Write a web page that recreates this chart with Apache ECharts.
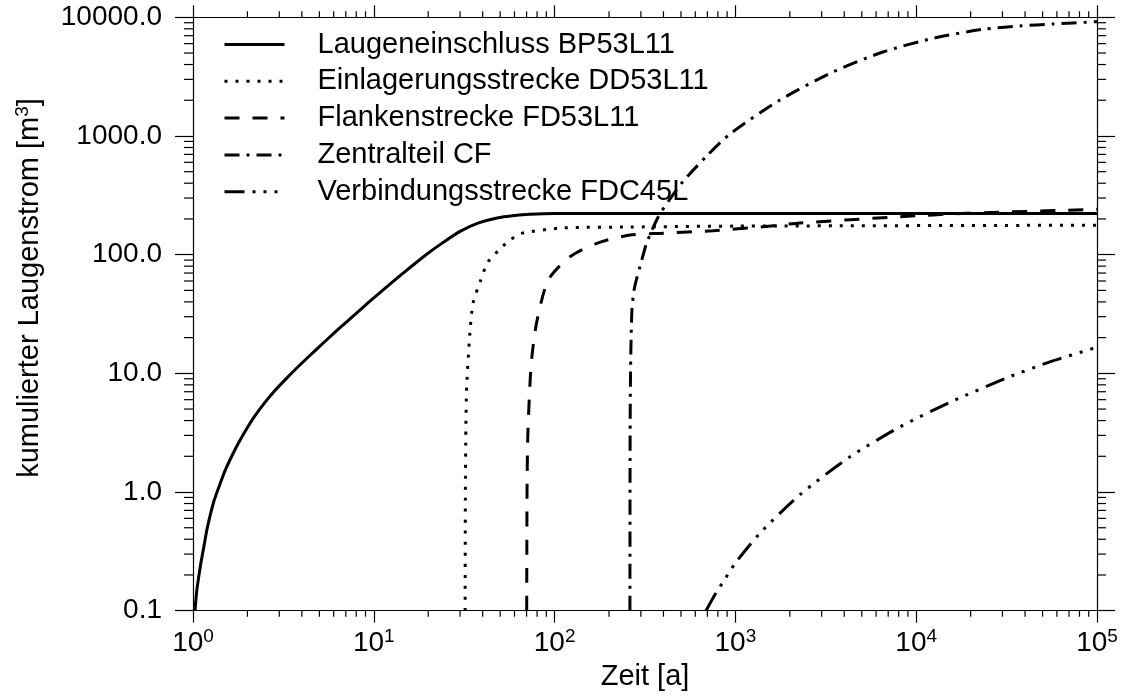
<!DOCTYPE html>
<html><head><meta charset="utf-8">
<script src="https://cdn.jsdelivr.net/npm/echarts@6/dist/echarts.min.js"></script>
<style>html,body{margin:0;padding:0;background:#fff}#c{width:1125px;height:697px}</style>
</head><body><div id="c"></div>
<script>
const FONT = "'Liberation Sans', Arial, Helvetica, sans-serif";

const seriesNames = [
  'Laugeneinschluss BP53L11',
  'Einlagerungsstrecke DD53L11',
  'Flankenstrecke FD53L11',
  'Zentralteil CF',
  'Verbindungsstrecke FDC45L'
];
const xTickExponents = ['0', '1', '2', '3', '4', '5'];
const yTickLabels = ['0.1', '1.0', '10.0', '100.0', '1000.0', '10000.0'];
const xAxisTitle = 'Zeit [a]';
const yAxisTitle = 'kumulierter Laugenstrom [m';
const yAxisTitleSup = '3';

// Laugeneinschluss BP53L11 (solid)
const tLauge = [1.026, 1.048, 1.1, 1.15, 1.2, 1.3, 1.4, 1.5, 1.65, 1.8, 2.0, 2.2, 2.5, 2.84, 3.3, 3.8, 4.4, 5.0, 6.0, 7.0, 8.5, 10, 12.8, 16, 19.7, 24, 30, 38, 48, 60, 73, 100, 1000, 100000];
const vLauge = [0.1, 0.145, 0.24, 0.35, 0.5, 0.82, 1.13, 1.5, 2.05, 2.65, 3.5, 4.38, 5.69, 7.17, 9.12, 11.3, 14.0, 16.8, 21.7, 26.8, 34.8, 43.2, 59.5, 78.7, 101.3, 125.7, 157, 185, 204, 214, 219, 222, 222, 222];
// Einlagerungsstrecke DD53L11 (dotted)
const tEin = [32.0, 32.1, 32.3, 32.65, 34.0, 35.4, 38.7, 42.8, 51.2, 56.7, 64.4, 73, 111, 261, 1000, 100000];
const vEin = [0.1, 1.0, 3.5, 7.7, 21.9, 39, 58.8, 86.7, 116, 133, 150, 156, 168, 171, 174, 177];
// Flankenstrecke FD53L11 (dashed)
const tFlank = [70.1, 70.4, 71.1, 73.6, 75.6, 80, 92.3, 121.7, 171, 261, 398, 752, 1421, 2277, 8137, 19010, 100000];
const vFlank = [0.1, 1.0, 3.0, 10, 15.7, 28, 61.2, 96.1, 124.6, 146.4, 151.4, 159.2, 172, 184.8, 208.9, 223, 241];
// Zentralteil CF (dash-dot)
const tZent = [261, 261.3, 262, 264, 268, 275, 284.6, 300, 323, 374.7, 434.8, 513.2, 694, 933.5, 1765, 3466, 6553, 12390, 23420, 37500, 57100, 100000];
const vZent = [0.1, 1.0, 5, 15, 35, 50, 63, 84.2, 125.4, 208.9, 294.4, 413.6, 678, 1039, 2010, 3459, 5101, 6655, 7925, 8449, 8783, 9183];
// Verbindungsstrecke FDC45L (dash-dot-dot-dot)
const tVerb = [687.6, 788, 850.5, 995, 1368, 2277, 4303, 8137, 15380, 31380, 54950, 100000];
const vVerb = [0.1, 0.145, 0.172, 0.25, 0.45, 0.95, 1.98, 3.54, 5.7, 9.1, 12.5, 16.6];

const allT = [tLauge, tEin, tFlank, tZent, tVerb];
const allV = [vLauge, vEin, vFlank, vZent, vVerb];
const dashTypes = ['solid', [3, 8], [15, 13], [15, 7, 3, 7], [20, 8, 3, 8, 3, 8, 3, 8]];

const chart = echarts.init(document.getElementById('c'), null, {renderer: 'canvas'});

const axisLineStyle = {color: '#000', width: 1.2};
const xRich = {
  b: {fontSize: 28, fontFamily: FONT, color: '#000', lineHeight: 28, padding: [4, 0, 0, 0]},
  s: {fontSize: 19, fontFamily: FONT, color: '#000', lineHeight: 19, verticalAlign: 'top'}
};
function xLabel(v) {
  const i = Math.round(Math.log10(v));
  return '{b|10}{s|' + xTickExponents[i] + '}';
}
function yLabel(v) {
  const i = Math.round(Math.log10(v)) + 1;
  return yTickLabels[i];
}

const option = {
  animation: false,
  backgroundColor: '#fff',
  grid: {left: 193, right: 28, top: 17.3, bottom: 86.3, containLabel: false},
  legend: {
    data: seriesNames,
    orient: 'vertical',
    left: 223, top: 29.5, padding: 0,
    itemWidth: 60, itemHeight: 14, itemGap: 6.8,
    itemStyle: {opacity: 0},
    lineStyle: {width: 3, color: '#000'},
    textStyle: {fontSize: 29, fontFamily: FONT, color: '#000', lineHeight: 30, padding: [0, 0, 0, 28]},
    selectedMode: false
  },
  xAxis: [
    {
      type: 'log', logBase: 10, min: 1, max: 100000, splitNumber: 5,
      position: 'bottom',
      name: xAxisTitle, nameLocation: 'middle', nameGap: 49,
      nameTextStyle: {fontSize: 29, fontFamily: FONT, color: '#000'},
      axisLine: {onZero: false, lineStyle: axisLineStyle},
      axisTick: {inside: false, length: 12, lineStyle: axisLineStyle},
      axisLabel: {margin: 17, formatter: xLabel, rich: xRich},
      splitLine: {show: false}, minorTick: {show: false}
    },
    {
      type: 'log', logBase: 10, min: 1, max: 100000, splitNumber: 5,
      position: 'top',
      axisLine: {onZero: false, lineStyle: axisLineStyle},
      axisTick: {inside: false, length: 12, lineStyle: axisLineStyle},
      axisLabel: {show: false},
      splitLine: {show: false}
    }
  ],
  yAxis: [
    {
      type: 'log', logBase: 10, min: 0.1, max: 10000, splitNumber: 5,
      position: 'left',
      axisLine: {onZero: false, lineStyle: axisLineStyle},
      axisTick: {inside: false, length: 18, lineStyle: axisLineStyle},
      axisLabel: {margin: 31, formatter: yLabel, fontSize: 28, fontFamily: FONT, color: '#000'},
      splitLine: {show: false}
    },
    {
      type: 'log', logBase: 10, min: 0.1, max: 10000, splitNumber: 5,
      position: 'right',
      axisLine: {onZero: false, lineStyle: axisLineStyle},
      axisTick: {inside: false, length: 18, lineStyle: axisLineStyle},
      axisLabel: {show: false},
      splitLine: {show: false}
    }
  ],
  series: seriesNames.map((name, i) => ({
    name: name,
    type: 'line',
    xAxisIndex: 0, yAxisIndex: 0,
    data: allT[i].map((t, j) => [t, allV[i][j]]),
    symbol: 'none', showSymbol: false,
    smooth: 0.25,
    clip: true,
    lineStyle: {color: '#000', width: 3, type: dashTypes[i]},
    itemStyle: {color: '#000'},
    emphasis: {disabled: true},
    z: 5
  }))
};
chart.setOption(option);

// Minor ticks (2..9 per decade) positioned through the axes' own log scales
function buildMinorTicks() {
  const els = [];
  const xL = chart.convertToPixel({xAxisIndex: 0}, 1);
  const xR = chart.convertToPixel({xAxisIndex: 0}, 100000);
  const yB = chart.convertToPixel({yAxisIndex: 0}, 0.1);
  const yT = chart.convertToPixel({yAxisIndex: 0}, 10000);
  const st = {stroke: '#000', lineWidth: 1.2};
  for (let d = 0; d < 5; d++) {
    for (let k = 2; k <= 9; k++) {
      const px = chart.convertToPixel({xAxisIndex: 0}, k * Math.pow(10, d));
      els.push({type: 'line', silent: true, shape: {x1: px, y1: yB, x2: px, y2: yB + 6}, style: st});
      els.push({type: 'line', silent: true, shape: {x1: px, y1: yT, x2: px, y2: yT - 6}, style: st});
    }
  }
  for (let d = -1; d < 4; d++) {
    for (let k = 2; k <= 9; k++) {
      const py = chart.convertToPixel({yAxisIndex: 0}, k * Math.pow(10, d));
      els.push({type: 'line', silent: true, shape: {x1: xL, y1: py, x2: xL - 9, y2: py}, style: st});
      els.push({type: 'line', silent: true, shape: {x1: xR, y1: py, x2: xR + 9, y2: py}, style: st});
    }
  }
  els.push({
    type: 'text', silent: true,
    x: 28, y: 288, rotation: Math.PI / 2,
    style: {
      text: '{a|' + yAxisTitle + '}{s|' + yAxisTitleSup + '}{a|]}',
      align: 'center', verticalAlign: 'middle',
      rich: {
        a: {fontSize: 29, fontFamily: FONT, fill: '#000', lineHeight: 29, padding: [4, 0, 0, 0]},
        s: {fontSize: 19, fontFamily: FONT, fill: '#000', lineHeight: 19, verticalAlign: 'top'}
      }
    }
  });
  chart.setOption({graphic: {elements: els}});
}
buildMinorTicks();
</script>
</body></html>
